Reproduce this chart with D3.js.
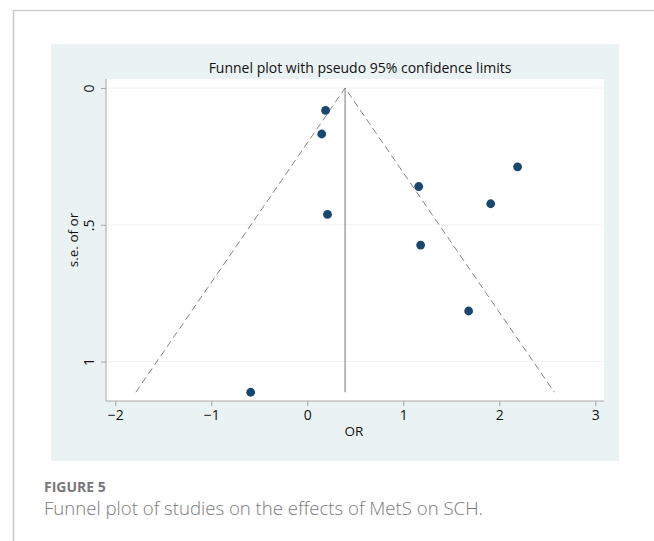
<!DOCTYPE html>
<html>
<head>
<meta charset="utf-8">
<script src="https://cdn.jsdelivr.net/npm/d3@7"></script>
<style>
  body { margin: 0; background: #fff; }
  text { font-family: "Open Sans", "DejaVu Sans", sans-serif; }
</style>
</head>
<body>
<svg id="chart" width="654" height="541"></svg>
<script>
// study estimates (log OR) and their standard errors
var studyOR = [0.19, 0.15, 0.21, 2.19, 1.16, 1.91, 1.18, 1.68, -0.59];
var studySE = [0.082, 0.168, 0.462, 0.288, 0.360, 0.423, 0.574, 0.815, 1.112];
var pooledOR = 0.393;
var maxSE = 1.112;
var xTicks = [-2, -1, 0, 1, 2, 3];
var yTicks = [0, 0.5, 1];
var yTickLabels = ["0", ".5", "1"];

var svg = d3.select("#chart");

// card border
svg.append("line").attr("x1", 13).attr("x2", 654).attr("y1", 10.5).attr("y2", 10.5)
  .attr("stroke", "#d0d0d0").attr("stroke-width", 1.5);
svg.append("line").attr("x1", 13.5).attr("x2", 13.5).attr("y1", 10).attr("y2", 541)
  .attr("stroke", "#c8c8c8").attr("stroke-width", 1.5);

// stata background panel
svg.append("rect").attr("x", 51).attr("y", 44).attr("width", 568).attr("height", 417)
  .attr("fill", "#eaf2f3");

var x = d3.scaleLinear().domain([-2.097, 3.09]).range([106, 604]);
var y = d3.scaleLinear().domain([-0.033, 1.144]).range([79, 401]);

// plot region
svg.append("rect").attr("x", 106).attr("y", 79).attr("width", 498).attr("height", 322)
  .attr("fill", "#fff");

// gridlines
svg.append("g").selectAll("line").data(yTicks).enter().append("line")
  .attr("x1", 106).attr("x2", 604)
  .attr("y1", function (d) { return y(d); }).attr("y2", function (d) { return y(d); })
  .attr("stroke", "#eef3f4").attr("stroke-width", 1);

svg.append("text").attr("x", 360).attr("y", 73).attr("text-anchor", "middle")
  .attr("font-size", "14px").attr("fill", "#111")
  .text("Funnel plot with pseudo 95% confidence limits");

// funnel
var funnel = [
  [[x(pooledOR - 1.96 * maxSE), y(maxSE)], [x(pooledOR), y(0)], [x(pooledOR + 1.96 * maxSE), y(maxSE)]]
];
svg.append("path").datum(funnel[0])
  .attr("d", d3.line())
  .attr("fill", "none").attr("stroke", "#777").attr("stroke-width", 0.9)
  .attr("stroke-dasharray", "7,4");
svg.append("line")
  .attr("x1", x(pooledOR)).attr("x2", x(pooledOR))
  .attr("y1", y(0)).attr("y2", y(maxSE))
  .attr("stroke", "#777").attr("stroke-width", 1);

// axes
var xAxis = svg.append("g").attr("transform", "translate(0,401)")
  .call(d3.axisBottom(x).tickValues(xTicks).tickSize(5).tickPadding(4)
    .tickFormat(function (d) { return d < 0 ? "\u2212" + Math.abs(d) : d; }));
xAxis.select(".domain").attr("d", "M106,0H604");
var yAxis = svg.append("g").attr("transform", "translate(106,0)")
  .call(d3.axisLeft(y).tickValues(yTicks).tickSize(5).tickPadding(0)
    .tickFormat(function (d, i) { return yTickLabels[i]; }));
yAxis.select(".domain").attr("d", "M0,79V401");
[xAxis, yAxis].forEach(function (a) {
  a.selectAll(".domain, .tick line").attr("stroke", "#a8a8a8");
  a.selectAll("text").attr("font-size", "14px").attr("fill", "#111")
    .attr("font-family", "'Open Sans', sans-serif");
});
yAxis.selectAll(".tick text")
  .attr("text-anchor", "middle").attr("x", 0).attr("dy", null)
  .attr("transform", "translate(-12,0) rotate(-90)");

svg.append("text").attr("x", 354).attr("y", 436).attr("text-anchor", "middle")
  .attr("font-size", "13.5px").attr("fill", "#111").text("OR");
svg.append("text").attr("transform", "translate(78,240) rotate(-90)")
  .attr("text-anchor", "middle").attr("font-size", "13.5px").attr("fill", "#111")
  .text("s.e. of or");

// studies
svg.append("g").selectAll("circle").data(studyOR).enter().append("circle")
  .attr("cx", function (d) { return x(d); })
  .attr("cy", function (d, i) { return y(studySE[i]); })
  .attr("r", 4.4)
  .attr("fill", "#1a476f");

// caption
svg.append("text").attr("x", 44).attr("y", 492)
  .attr("font-size", "14px").attr("font-weight", "bold").attr("fill", "#787878")
  .text("FIGURE 5");
svg.append("text").attr("x", 44).attr("y", 515)
  .attr("font-size", "18.6px").attr("font-weight", 300).attr("fill", "#7a7a7a")
  .text("Funnel plot of studies on the effects of MetS on SCH.");
</script>
</body>
</html>
